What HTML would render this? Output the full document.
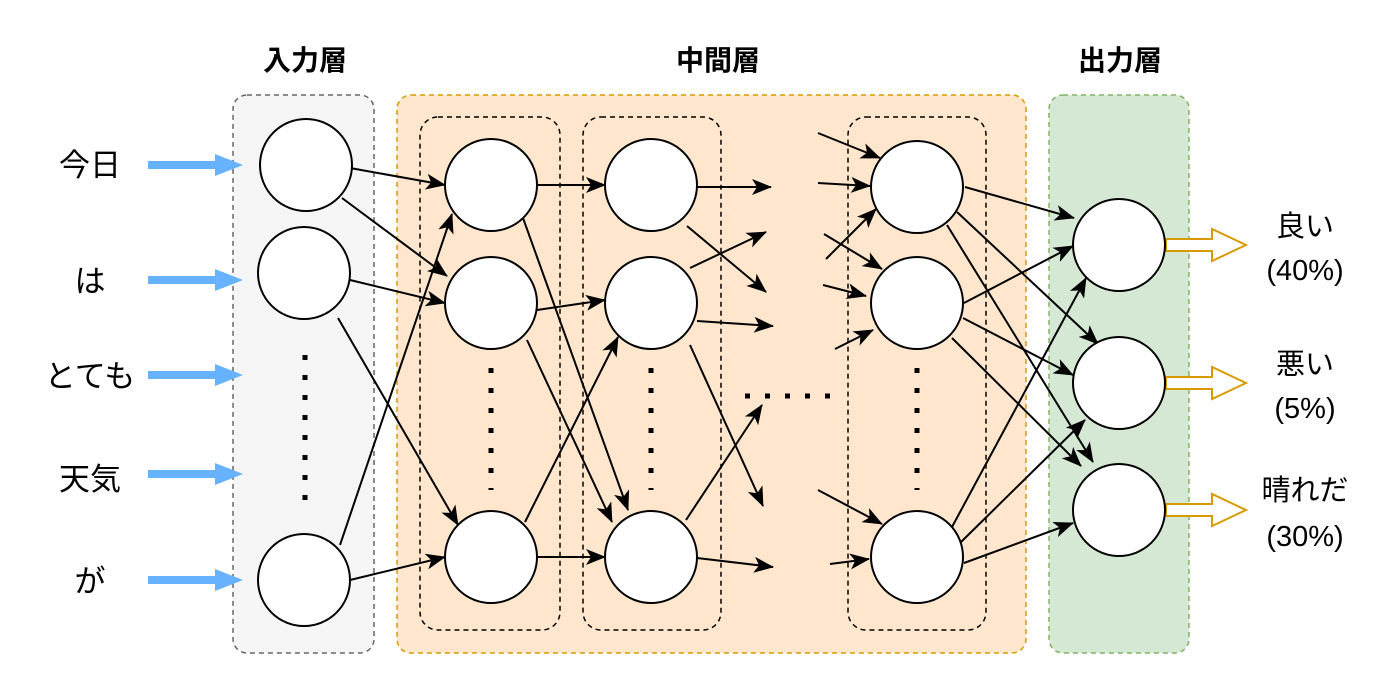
<!DOCTYPE html>
<html><head><meta charset="utf-8"><style>
html,body{margin:0;padding:0;background:#fff;}
svg{display:block;}
text{font-family:"Liberation Sans","Noto Sans CJK JP",sans-serif;}
</style></head><body>
<svg width="1400" height="677" viewBox="0 0 1400 677" xmlns="http://www.w3.org/2000/svg">
<defs>
<marker id="a" markerWidth="20" markerHeight="16" refX="19" refY="8" orient="auto" markerUnits="userSpaceOnUse">
<path d="M0,0 L20,8 L0,16 L5,8 Z" fill="#000"/></marker>
</defs>
<g font-size="28" font-weight="bold" text-anchor="middle" fill="#000">
<text x="305" y="70">入力層</text>
<text x="718" y="70">中間層</text>
<text x="1120" y="70">出力層</text>
</g>
<rect x="233" y="95" width="141" height="558" rx="14" fill="#f5f5f5" stroke="#666" stroke-width="1.5" stroke-dasharray="5,4"/>
<rect x="397" y="95" width="629" height="558" rx="14" fill="#ffe6cc" stroke="#d79b00" stroke-width="1.5" stroke-dasharray="5,4"/>
<rect x="1049" y="95" width="140" height="558" rx="14" fill="#d5e8d4" stroke="#82b366" stroke-width="1.5" stroke-dasharray="5,4"/>
<g fill="none" stroke="#000" stroke-width="1.5" stroke-dasharray="5,4">
<rect x="420" y="117" width="140" height="513" rx="18"/>
<rect x="583" y="117" width="138" height="513" rx="18"/>
<rect x="848" y="117" width="138" height="513" rx="18"/>
</g>
<g font-size="31" text-anchor="middle" fill="#000">
<text x="90" y="176">今日</text>
<text x="90" y="292">は</text>
<text x="90" y="387">とても</text>
<text x="90" y="490">天気</text>
<text x="90" y="592">が</text>
</g>
<g fill="#66b2ff">
<path d="M148,161 H215 V154 L243,165 L215,176 V169 H148 Z"/>
<path d="M148,276 H215 V269 L243,280 L215,291 V284 H148 Z"/>
<path d="M148,371 H215 V364 L243,375 L215,386 V379 H148 Z"/>
<path d="M148,470 H215 V463 L243,474 L215,485 V478 H148 Z"/>
<path d="M148,576 H215 V569 L243,580 L215,591 V584 H148 Z"/>
</g>
<g font-size="29" text-anchor="middle" fill="#000">
<text x="1305" y="236">良い</text><text x="1305" y="280">(40%)</text>
<text x="1305" y="374">悪い</text><text x="1305" y="418">(5%)</text>
<text x="1305" y="500">晴れだ</text><text x="1305" y="546">(30%)</text>
</g>
<g fill="#fff" stroke="#d79b00" stroke-width="2">
<path d="M1166,239 H1212 V229 L1246,245 L1212,261 V251 H1166 Z"/>
<path d="M1166,377 H1212 V367 L1246,383 L1212,399 V389 H1166 Z"/>
<path d="M1166,504 H1212 V494 L1246,510 L1212,526 V516 H1166 Z"/>
</g>
<g stroke="#000" stroke-width="2" fill="none" marker-end="url(#a)">
<line x1="350" y1="168" x2="445" y2="185"/>
<line x1="342" y1="198" x2="447" y2="276"/>
<line x1="350" y1="280" x2="445" y2="303"/>
<line x1="338" y1="318" x2="458" y2="525"/>
<line x1="340" y1="545" x2="452" y2="214"/>
<line x1="350" y1="580" x2="445" y2="557"/>
<line x1="537" y1="185" x2="605" y2="185"/>
<line x1="523" y1="218" x2="628" y2="510"/>
<line x1="537" y1="310" x2="605" y2="300"/>
<line x1="527" y1="340" x2="612" y2="522"/>
<line x1="525" y1="522" x2="618" y2="337"/>
<line x1="537" y1="557" x2="605" y2="557"/>
<line x1="697" y1="187" x2="771" y2="187"/>
<line x1="687" y1="226" x2="766" y2="292"/>
<line x1="690" y1="268" x2="766" y2="232"/>
<line x1="697" y1="321" x2="773" y2="326"/>
<line x1="690" y1="345" x2="763" y2="506"/>
<line x1="686" y1="520" x2="762" y2="405"/>
<line x1="697" y1="558" x2="773" y2="567"/>
<line x1="818" y1="133" x2="880" y2="158"/>
<line x1="818" y1="183" x2="870" y2="186"/>
<line x1="826" y1="259" x2="876" y2="209"/>
<line x1="824" y1="234" x2="882" y2="269"/>
<line x1="823" y1="285" x2="866" y2="296"/>
<line x1="835" y1="349" x2="873" y2="330"/>
<line x1="818" y1="490" x2="882" y2="524"/>
<line x1="830" y1="564" x2="869" y2="559"/>
<line x1="965" y1="187" x2="1074" y2="218"/>
<line x1="957" y1="212" x2="1098" y2="344"/>
<line x1="947" y1="225" x2="1093" y2="462"/>
<line x1="964" y1="303" x2="1073" y2="246"/>
<line x1="963" y1="318" x2="1073" y2="375"/>
<line x1="952" y1="338" x2="1081" y2="466"/>
<line x1="952" y1="527" x2="1086" y2="278"/>
<line x1="961" y1="542" x2="1085" y2="420"/>
<line x1="964" y1="563" x2="1073" y2="523"/>
</g>
<g fill="#fff" stroke="#000" stroke-width="2">
<circle cx="306" cy="165" r="46"/><circle cx="304" cy="273" r="46"/><circle cx="304" cy="580" r="46"/>
<circle cx="491" cy="185" r="46"/><circle cx="491" cy="303" r="46"/><circle cx="491" cy="557" r="46"/>
<circle cx="651" cy="185" r="46"/><circle cx="651" cy="303" r="46"/><circle cx="651" cy="557" r="46"/>
<circle cx="917" cy="187" r="46"/><circle cx="917" cy="303" r="46"/><circle cx="917" cy="557" r="46"/>
<circle cx="1119" cy="245" r="46"/><circle cx="1119" cy="383" r="46"/><circle cx="1119" cy="510" r="46"/>
</g>
<g stroke="#000" stroke-width="5" stroke-dasharray="5,15">
<line x1="305" y1="355" x2="305" y2="515"/>
<line x1="491" y1="368" x2="491" y2="490"/>
<line x1="651" y1="368" x2="651" y2="490"/>
<line x1="917" y1="368" x2="917" y2="490"/>
<line x1="745" y1="396" x2="830" y2="396"/>
</g>
</svg>
</body></html>
